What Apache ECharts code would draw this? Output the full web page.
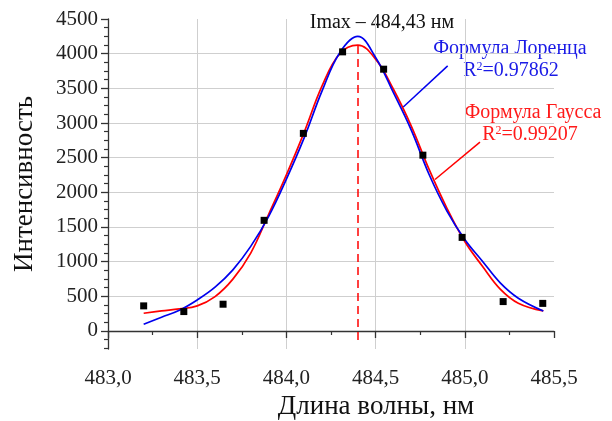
<!DOCTYPE html>
<html>
<head>
<meta charset="utf-8">
<script src="https://cdn.jsdelivr.net/npm/echarts@6/dist/echarts.min.js"></script>
<style>
    html, body {margin: 0; padding: 0; background: #fff;}
    #chart {width: 612px; height: 421px;}
</style>
</head>
<body>
<div id="chart"></div>
<script>
// measured points
const pointX = [483.2, 483.425, 483.645, 483.875, 484.095, 484.315, 484.545, 484.765, 484.985, 485.215, 485.437];
const pointY = [362, 280, 386, 1596, 2850, 4026, 3776, 2536, 1350, 424, 398];

// fitted curves
const fitX = [483.2, 483.3, 483.4, 483.5, 483.6, 483.7, 483.8, 483.9, 484.0, 484.1, 484.2, 484.3, 484.4,
    484.5, 484.6, 484.7, 484.8, 484.9, 485.0, 485.1, 485.2, 485.3, 485.44];
const gaussY = [256, 289, 318, 362, 496, 748, 1124, 1680, 2252, 2869, 3535, 4003, 4123,
    3921, 3487, 2956, 2330, 1770, 1290, 930, 600, 400, 289];
const lorentzY = [97, 198, 299, 448, 632, 882, 1220, 1650, 2190, 2788, 3463, 4017, 4248,
    3945, 3438, 2898, 2257, 1730, 1320, 1003, 690, 473, 289];

const imaxX = 484.4;
const xTickLabels = ['483,0', '483,5', '484,0', '484,5', '485,0', '485,5'];
const yTickValues = [0, 500, 1000, 1500, 2000, 2500, 3000, 3500, 4000, 4500];

const font = 'Liberation Serif';
const zip = (xs, ys) => xs.map((x, i) => [x, ys[i]]);

let chartDom = document.getElementById('chart');
let myChart = echarts.init(chartDom);

const option = {
    backgroundColor: '#fff',
    animation: false,
    grid: {
        left: 108,
        right: 58,
        top: 19,
        bottom: 72,
        containLabel: false,
        outerBoundsMode: 'none',
    },
    xAxis: {
        type: 'value',
        min: 483,
        max: 485.5,
        interval: 0.5,
        name: 'Длина волны, нм',
        nameLocation: 'middle',
        nameGap: 43,
        nameTextStyle: {fontFamily: font, fontSize: 27, color: '#111', padding: [0, 0, 0, 90]},
        axisLine: {lineStyle: {color: '#333', width: 1.3}},
        axisTick: {show: true, inside: false, length: 7, lineStyle: {color: '#333', width: 1.3}},
        minorTick: {show: true, splitNumber: 2, length: 4, lineStyle: {color: '#333', width: 1.2}},
        axisLabel: {
            fontFamily: font,
            fontSize: 21,
            color: '#222',
            margin: 19,
            formatter: v => xTickLabels[Math.round((v - 483) / 0.5)] || '',
        },
        splitLine: {show: true, showMinLine: false, showMaxLine: false, lineStyle: {color: '#cfcfcf', width: 1}},
    },
    yAxis: {
        type: 'value',
        min: -260,
        max: 4500,
        splitNumber: 10,
        name: 'Интенсивность',
        nameLocation: 'middle',
        nameGap: 70,
        nameTextStyle: {fontFamily: font, fontSize: 27, color: '#111'},
        axisLine: {show: true, lineStyle: {color: '#333', width: 1.3}},
        axisTick: {show: true, length: 7, customValues: yTickValues, lineStyle: {color: '#333', width: 1.3}},
        minorTick: {show: true, splitNumber: 4, length: 4, lineStyle: {color: '#333', width: 1.2}},
        axisLabel: {
            fontFamily: font,
            fontSize: 21,
            color: '#222',
            margin: 10,
            customValues: yTickValues,
            formatter: v => (v % 500 === 0 ? String(v) : ''),
        },
        splitLine: {show: true, showMinLine: false, showMaxLine: false, lineStyle: {color: '#cfcfcf', width: 1}},
    },
    graphic: [
        {type: 'text', x: 382, y: 23, style: {text: 'Imax – 484,43 нм', font: '20px "Liberation Serif"', fill: '#111', align: 'center', verticalAlign: 'middle'}},
        {type: 'text', x: 510, y: 49, style: {text: 'Формула Лоренца', font: '20px "Liberation Serif"', fill: '#1a1ae6', align: 'center', verticalAlign: 'middle'}},
        {type: 'text', x: 511, y: 71, style: {text: 'R{s|2}=0.97862', font: '20px "Liberation Serif"', fill: '#1a1ae6', align: 'center', verticalAlign: 'middle',
            rich: {s: {fontSize: 12, fontFamily: font, fill: '#1a1ae6', verticalAlign: 'top', padding: [0, 0, 9, 0]}}}},
        {type: 'text', x: 533, y: 113, style: {text: 'Формула Гаусса', font: '20px "Liberation Serif"', fill: '#ff1a1a', align: 'center', verticalAlign: 'middle'}},
        {type: 'text', x: 530, y: 135, style: {text: 'R{s|2}=0.99207', font: '20px "Liberation Serif"', fill: '#ff1a1a', align: 'center', verticalAlign: 'middle',
            rich: {s: {fontSize: 12, fontFamily: font, fill: '#ff1a1a', verticalAlign: 'top', padding: [0, 0, 9, 0]}}}},
    ],
    series: [
        {
            name: 'Гаусс',
            type: 'line',
            data: zip(fitX, gaussY),
            smooth: 0.4,
            showSymbol: false,
            color: '#ff0000',
            lineStyle: {width: 1.7},
            z: 2,
            markLine: {
                silent: true,
                symbol: 'none',
                label: {show: false},
                data: [
                    [{coord: [imaxX, -130]}, {coord: [imaxX, 4125]}],
                    [{coord: [485.085, 2724]}, {coord: [484.833, 2185]}],
                ],
            },
        },
        {
            name: 'Лоренц',
            type: 'line',
            data: zip(fitX, lorentzY),
            smooth: 0.4,
            showSymbol: false,
            color: '#0000ee',
            lineStyle: {width: 1.7},
            z: 3,
            markLine: {
                silent: true,
                symbol: 'none',
                label: {show: false},
                lineStyle: {color: '#0000ee', width: 1.5, type: 'solid'},
                data: [
                    [{coord: [484.904, 3824]}, {coord: [484.655, 3231]}],
                ],
            },
        },
        {
            name: 'Эксперимент',
            type: 'scatter',
            data: zip(pointX, pointY),
            symbol: 'rect',
            symbolSize: 7,
            itemStyle: {color: '#000', opacity: 1},
            z: 4,
        },
    ]
};

// dashed Imax line vs solid leader line on the Gauss series
option.series[0].markLine.data[0][0].lineStyle = {color: '#ff0000', width: 1.5, type: [8, 5]};
option.series[0].markLine.data[1][0].lineStyle = {color: '#ff0000', width: 1.5, type: 'solid'};

myChart.setOption(option);
</script>
</body>
</html>
